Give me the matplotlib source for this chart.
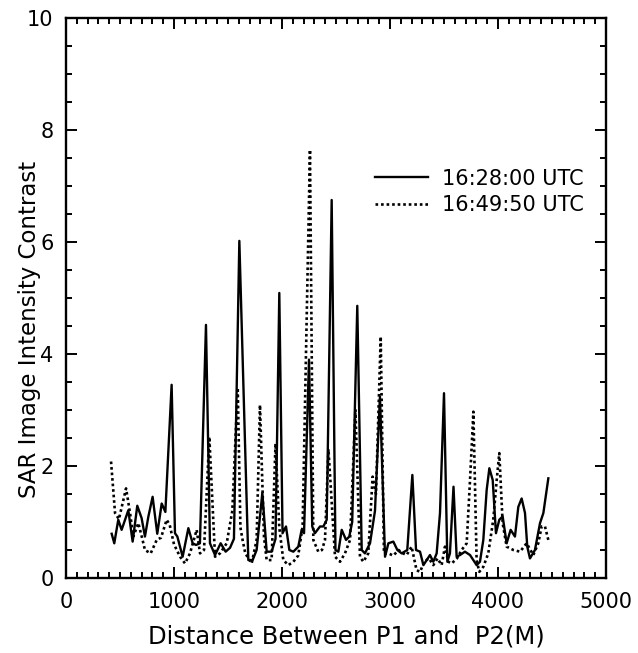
import matplotlib
matplotlib.use("Agg")
import matplotlib.pyplot as plt
from matplotlib.ticker import MultipleLocator

# ---- data ----
dist_1628 = [423, 447, 484, 515, 577, 617, 660, 700, 731, 762, 802, 845, 886, 920,
             978, 1009, 1031, 1080, 1133, 1173, 1204, 1240, 1296, 1333, 1380, 1432,
             1478, 1519, 1555, 1605, 1688, 1728, 1765, 1818, 1858, 1904, 1940, 1975,
             2005, 2037, 2068, 2105, 2151, 2182, 2204, 2250, 2280, 2305, 2352, 2383,
             2414, 2460, 2495, 2522, 2553, 2593, 2623, 2650, 2697, 2738, 2768, 2815,
             2861, 2907, 2954, 2985, 3031, 3068, 3108, 3160, 3207, 3241, 3278, 3309,
             3340, 3370, 3401, 3432, 3463, 3500, 3531, 3555, 3588, 3617, 3648, 3694,
             3741, 3802, 3833, 3864, 3895, 3920, 3951, 3981, 4012, 4043, 4080, 4117,
             4157, 4188, 4219, 4250, 4271, 4296, 4342, 4389, 4420, 4466]
contrast_1628 = [0.79, 0.62, 1.04, 0.86, 1.21, 0.65, 1.29, 1.07, 0.74, 1.09, 1.45, 0.79,
                 1.33, 1.18, 3.45, 0.80, 0.74, 0.38, 0.89, 0.62, 0.59, 0.62, 4.52, 0.62,
                 0.41, 0.62, 0.47, 0.54, 0.70, 6.02, 0.32, 0.32, 0.50, 1.52, 0.47, 0.47,
                 0.70, 5.09, 0.80, 0.92, 0.50, 0.47, 0.56, 0.86, 0.80, 3.90, 0.92, 0.80,
                 0.92, 0.92, 1.04, 6.75, 0.50, 0.47, 0.86, 0.68, 0.74, 1.00, 4.86, 0.50,
                 0.44, 0.62, 1.20, 3.24, 0.38, 0.62, 0.65, 0.50, 0.44, 0.50, 1.84, 0.50,
                 0.47, 0.23, 0.32, 0.41, 0.29, 0.44, 1.16, 3.30, 0.29, 0.44, 1.63, 0.38,
                 0.41, 0.47, 0.41, 0.23, 0.29, 0.68, 1.57, 1.96, 1.75, 0.80, 1.04, 1.10,
                 0.62, 0.86, 0.74, 1.27, 1.42, 1.16, 0.56, 0.35, 0.50, 0.98, 1.16, 1.78]

dist_1649 = [417, 454, 490, 520, 556, 593, 623, 670, 700, 731, 784, 840, 880, 932, 960,
             1000, 1056, 1102, 1148, 1210, 1241, 1278, 1327, 1380, 1426, 1488, 1540,
             1590, 1615, 1635, 1660, 1719, 1765, 1796, 1833, 1858, 1904, 1940, 1975,
             2012, 2059, 2105, 2150, 2191, 2259, 2290, 2336, 2370, 2398, 2430, 2491,
             2537, 2583, 2630, 2680, 2722, 2753, 2799, 2839, 2870, 2914, 2944, 2985,
             3030, 3080, 3110, 3154, 3200, 3246, 3278, 3320, 3360, 3401, 3440, 3478,
             3509, 3540, 3571, 3620, 3663, 3710, 3741, 3772, 3802, 3827, 3864, 3910,
             3956, 3988, 4012, 4043, 4080, 4142, 4204, 4265, 4327, 4373, 4404, 4435,
             4466]
contrast_1649 = [2.08, 1.16, 1.05, 1.30, 1.60, 1.16, 0.74, 0.98, 0.75, 0.50, 0.44, 0.68,
                 0.72, 1.04, 0.95, 0.60, 0.38, 0.26, 0.44, 0.86, 0.44, 0.50, 2.52, 0.38,
                 0.44, 0.62, 1.20, 3.40, 0.90, 0.68, 0.44, 0.26, 0.68, 3.09, 0.74, 0.32,
                 0.32, 2.40, 0.90, 0.32, 0.23, 0.29, 0.40, 0.92, 7.65, 0.68, 0.47, 0.50,
                 0.68, 2.30, 0.38, 0.29, 0.44, 0.68, 3.00, 0.38, 0.29, 0.44, 1.81, 1.50,
                 4.31, 0.44, 0.44, 0.40, 0.50, 0.45, 0.41, 0.56, 0.14, 0.11, 0.30, 0.35,
                 0.23, 0.35, 0.23, 0.56, 0.29, 0.26, 0.35, 0.50, 0.62, 1.75, 2.97, 0.32,
                 0.11, 0.20, 0.44, 1.04, 1.75, 2.23, 0.98, 0.56, 0.50, 0.47, 0.62, 0.41,
                 0.62, 0.92, 0.92, 0.68]

labels = ["16:28:00 UTC", "16:49:50 UTC"]
xticks = [0, 1000, 2000, 3000, 4000, 5000]
yticks = [0, 2, 4, 6, 8, 10]

# ---- figure ----
fig = plt.figure(figsize=(6.38, 6.53), dpi=100)
ax = fig.add_axes([66/638, 1 - 578/653, 540/638, 560/653])

ax.plot(dist_1628, contrast_1628, color="black", lw=1.7, ls="-", label=labels[0])
ax.plot(dist_1649, contrast_1649, color="black", lw=1.9, ls=(0, (1, 1.1)), label=labels[1])

ax.set_xlim(0, 5000)
ax.set_ylim(0, 10)
ax.set_xticks(xticks)
ax.set_yticks(yticks)
ax.xaxis.set_minor_locator(MultipleLocator(100))
ax.yaxis.set_minor_locator(MultipleLocator(0.5))
ax.tick_params(which="both", direction="in", top=True, right=True, width=1.4,
               labelsize=15)
ax.tick_params(axis="x", which="both", pad=10)
ax.tick_params(axis="y", which="both", pad=9)
ax.tick_params(which="major", length=8)
ax.tick_params(which="minor", length=4)
for s in ax.spines.values():
    s.set_linewidth(1.7)

ax.set_xlabel("Distance Between P1 and  P2(M)", fontsize=17.5)
ax.set_ylabel("SAR Image Intensity Contrast", fontsize=16.5)
ax.xaxis.set_label_coords(0.52, -0.083)
ax.yaxis.set_label_coords(-0.046, 0.443)

ax.legend(loc="upper left", bbox_to_anchor=(0.557, 0.746), frameon=False,
          borderaxespad=0, fontsize=15, handlelength=2.55, handletextpad=0.65,
          labelspacing=0.3)

fig.savefig("out.png", dpi=100)
